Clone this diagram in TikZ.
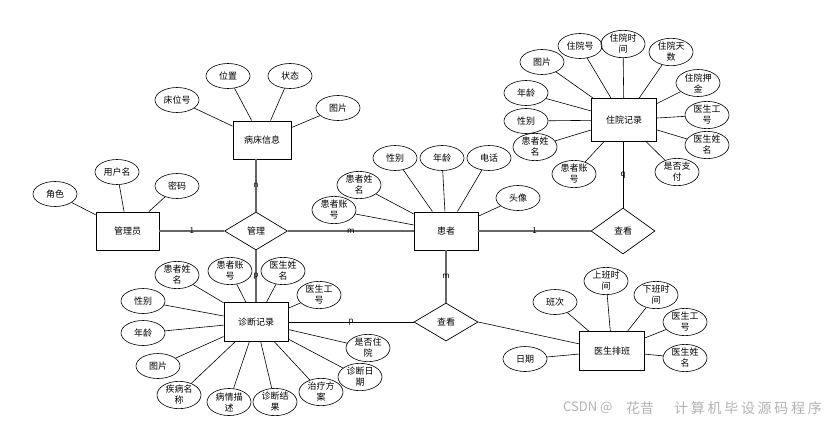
\documentclass[tikz,border=0pt]{standalone}
\usepackage{fontspec}
\setmainfont{Noto Sans CJK SC}
\usetikzlibrary{shapes.geometric}
\begin{document}
\begin{tikzpicture}[x=1pt,y=-1pt,
 every node/.style={font=\fontsize{9}{11}\selectfont, align=center},
 ent/.style={draw, line width=0.9pt, minimum width=64pt, minimum height=38pt, inner sep=0pt},
 rel/.style={draw, diamond, line width=0.7pt, minimum width=64pt, minimum height=38pt, inner sep=0pt},
 attr/.style={draw, ellipse, line width=0.6pt, minimum width=44pt, minimum height=25pt, inner sep=0pt},
 conn/.style={draw=black!60, line width=1.6pt},
 thin conn/.style={draw=black, line width=0.9pt},
 link/.style={draw, line width=0.6pt},
 card/.style={font=\fontsize{8}{8}\selectfont, inner sep=0pt},
 wm/.style={text=black!30, font=\fontsize{14}{14}\selectfont, inner sep=0pt}]
\useasboundingbox (0,0) rectangle (827,424);

% entities
\node[ent, minimum width=58pt] (bc) at (262,140) {病床信息};
\node[ent, minimum width=63pt] (gly) at (127.5,231) {管理员};
\node[ent] (hz) at (446,231) {患者};
\node[ent, minimum width=65pt, minimum height=43pt] (zy) at (624,120) {住院记录};
\node[ent, minimum height=39pt] (zd) at (256,322) {诊断记录};
\node[ent, minimum width=65pt, minimum height=39pt] (yp) at (612,351) {医生排班};

% relationships
\node[rel, minimum width=63pt] (gl) at (256,231) {管理};
\node[rel, minimum height=46pt] (ck1) at (623,231) {查看};
\node[rel] (ck2) at (446,322) {查看};

% connectors
\draw[conn] (gly) -- node[card]{1} (gl);
\draw[conn] (gl) -- node[card]{m} (hz);
\draw[conn] (gl.north) -- node[card]{n} (gl.north |- bc.south);
\draw[conn] (gl.south) -- node[card]{p} (gl.south |- zd.north);
\draw[thin conn] (zd) -- node[card]{p} (ck2);
\draw[conn] (hz.south) -- node[card]{m} (hz.south |- ck2.north);
\draw[conn] (hz) -- node[card]{1} (ck1);
\draw[thin conn] (ck1.north) -- node[card]{q} (ck1.north |- zy.south);
\draw[link] (ck2.east) -- (yp);

% attributes of 病床信息
\node[attr] (b1) at (177,100) {床位号};
\node[attr] (b2) at (228,76) {位置};
\node[attr] (b3) at (290,76) {状态};
\node[attr] (b4) at (338,108) {图片};
\foreach \a in {b1,b2,b3,b4} \draw[link] (\a) -- (bc);

% attributes of 管理员
\node[attr] (g1) at (55,194) {角色};
\node[attr] (g2) at (117,172) {用户名};
\node[attr] (g3) at (177,186) {密码};
\foreach \a in {g1,g2,g3} \draw[link] (\a) -- (gly);

% attributes of 患者
\node[attr] (h1) at (395,158) {性别};
\node[attr] (h2) at (442,158) {年龄};
\node[attr] (h3) at (489,158) {电话};
\node[attr] (h4) at (359,185) {患者姓\\名};
\node[attr] (h5) at (334,210) {患者账\\号};
\node[attr] (h6) at (518,198) {头像};
\foreach \a in {h1,h2,h3,h4,h5,h6} \draw[link] (\a) -- (hz);

% attributes of 住院记录
\node[attr] (z1) at (542,62) {图片};
\node[attr] (z2) at (580,46) {住院号};
\node[attr] (z3) at (623,44) {住院时\\间};
\node[attr] (z4) at (671,52) {住院天\\数};
\node[attr] (z5) at (698,83) {住院押\\金};
\node[attr] (z6) at (707,115) {医生工\\号};
\node[attr] (z7) at (707,145) {医生姓\\名};
\node[attr] (z8) at (677,172) {是否支\\付};
\node[attr] (z9) at (574,174) {患者账\\号};
\node[attr] (z10) at (535,147) {患者姓\\名};
\node[attr] (z11) at (526,121) {性别};
\node[attr] (z12) at (526,93) {年龄};
\foreach \a in {z1,z2,z3,z4,z5,z6,z7,z8,z9,z10,z11,z12} \draw[link] (\a) -- (zy);

% attributes of 诊断记录
\node[attr] (d1) at (177,275) {患者姓\\名};
\node[attr] (d2) at (230,271) {患者账\\号};
\node[attr] (d3) at (283,271) {医生姓\\名};
\node[attr] (d4) at (319,295) {医生工\\号};
\node[attr] (d5) at (143,301) {性别};
\node[attr] (d6) at (143,333) {年龄};
\node[attr] (d7) at (158,366) {图片};
\node[attr] (d8) at (179,395) {疾病名\\称};
\node[attr] (d9) at (229,402) {病情描\\述};
\node[attr] (d10) at (275,402) {诊断结\\果};
\node[attr] (d11) at (321,392) {治疗方\\案};
\node[attr] (d12) at (360,377) {诊断日\\期};
\node[attr] (d13) at (368,348) {是否住\\院};
\foreach \a in {d1,d2,d3,d4,d5,d6,d7,d8,d9,d10,d11,d12,d13} \draw[link] (\a) -- (zd);

% attributes of 医生排班
\node[attr] (p1) at (555,302) {班次};
\node[attr] (p2) at (606,281) {上班时\\间};
\node[attr] (p3) at (656,295) {下班时\\间};
\node[attr] (p4) at (685,322) {医生工\\号};
\node[attr] (p5) at (685,358) {医生姓\\名};
\node[attr] (p6) at (525,359) {日期};
\foreach \a in {p1,p2,p3,p4,p5,p6} \draw[link] (\a) -- (yp);

% watermark
\node[wm, anchor=west, font=\fontsize{13}{13}\selectfont] (w1) at (563,408) {CSDN @};
\node[wm] (w2) at (640,408) {花昔};
\node[wm, anchor=east] (w3) at (822,408) {计\kern2.7pt 算\kern2.7pt 机\kern2.7pt 毕\kern2.7pt 设\kern2.7pt 源\kern2.7pt 码\kern2.7pt 程\kern2.7pt 序};
\end{tikzpicture}
\end{document}
